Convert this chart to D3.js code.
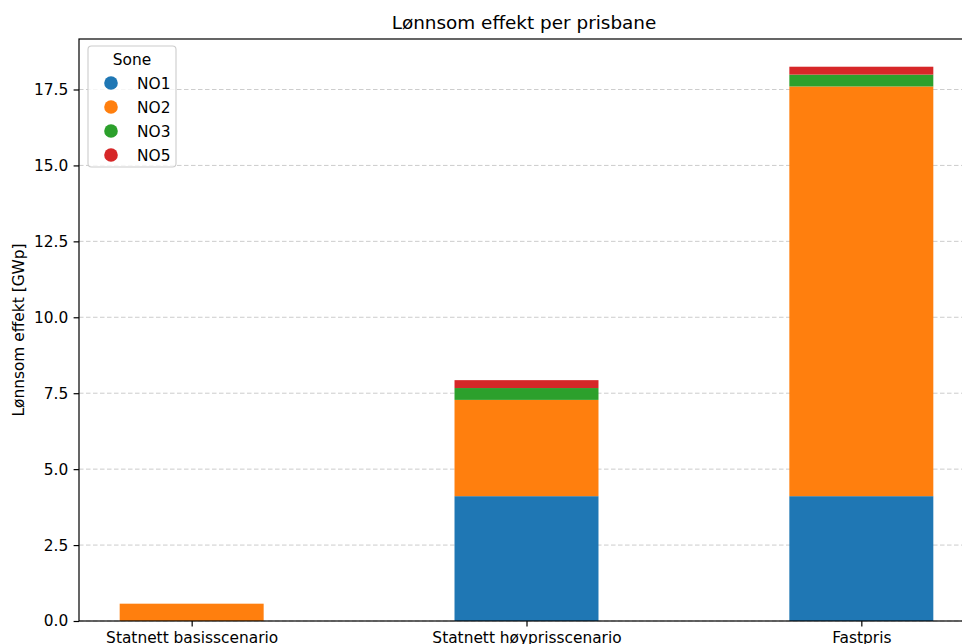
<!DOCTYPE html>
<html><head><meta charset="utf-8">
<script src="https://cdn.jsdelivr.net/npm/d3@7"></script>
<style>body{margin:0;background:#fff;} svg{display:block;font-family:"DejaVu Sans",sans-serif;}</style>
</head><body>
<svg id="c" width="962" height="644"></svg>
<script>
const categories = ["Statnett basisscenario", "Statnett høyprisscenario", "Fastpris"];
const zones = ["NO1", "NO2", "NO3", "NO5"];
const NO1 = [0, 4.11, 4.11];
const NO2 = [0.57, 3.17, 13.49];
const NO3 = [0, 0.39, 0.39];
const NO5 = [0, 0.26, 0.26];
const colors = ["#1f77b4", "#ff7f0e", "#2ca02c", "#d62728"];
const yTicks = [0, 2.5, 5, 7.5, 10, 12.5, 15, 17.5];

const series = {NO1, NO2, NO3, NO5};
const rows = categories.map((c, i) => {
  const r = {cat: c};
  zones.forEach(z => r[z] = series[z][i]);
  return r;
});
const stack = d3.stack().keys(zones)(rows);

const svg = d3.select("#c");
const L = 79, T = 39, B = 621, R = 974;
const FS = 15.4;
const barW = 0.43;
const xlo = -barW/2 - 0.05*(2+barW), xhi = 2 + barW/2 + 0.05*(2+barW);
const x = d3.scaleLinear().domain([xlo, xhi]).range([L, R]);
const totals = rows.map(r => zones.reduce((s, z) => s + r[z], 0));
const ymax = d3.max(totals) * 1.05;
const y = d3.scaleLinear().domain([0, ymax]).range([B, T]);

// grid
svg.append("g").selectAll("line").data(yTicks).join("line")
  .attr("x1", L).attr("x2", R).attr("y1", d => y(d)).attr("y2", d => y(d))
  .attr("stroke", "#b0b0b0").attr("stroke-width", 0.9).attr("stroke-dasharray", "4.5,2.5").attr("opacity", 0.7);

// bars
svg.append("g").selectAll("g").data(stack).join("g")
  .attr("fill", (d, i) => colors[i])
  .selectAll("rect").data(d => d).join("rect")
  .attr("x", (d, i) => x(i - barW/2))
  .attr("width", x(barW) - x(0))
  .attr("y", d => y(d[1]))
  .attr("height", d => y(d[0]) - y(d[1]));

// axes
const yAxis = d3.axisLeft(y).tickValues(yTicks).tickFormat(d3.format(".1f")).tickSize(5.4).tickPadding(5.4);
const gy = svg.append("g").attr("transform", `translate(${L},0)`).call(yAxis);
gy.select(".domain").remove();
gy.selectAll("text").attr("font-size", FS).attr("fill", "#000").attr("font-family", "DejaVu Sans");
gy.selectAll("line").attr("stroke", "#000").attr("stroke-width", 1.2);

const xAxis = d3.axisBottom(x).tickValues([0, 1, 2]).tickFormat(i => categories[i]).tickSize(5.4).tickPadding(5.4);
const gx = svg.append("g").attr("transform", `translate(0,${B})`).call(xAxis);
gx.select(".domain").remove();
gx.selectAll("text").attr("font-size", FS).attr("fill", "#000").attr("font-family", "DejaVu Sans");
gx.selectAll("line").attr("stroke", "#000").attr("stroke-width", 1.2);

// spines
svg.append("rect").attr("x", L).attr("y", T).attr("width", R - L).attr("height", B - T)
  .attr("fill", "none").attr("stroke", "#000").attr("stroke-width", 1.2);

// title
svg.append("text").attr("x", 524).attr("y", 29).attr("text-anchor", "middle")
  .attr("font-size", 18.4).text("Lønnsom effekt per prisbane");

// y label
svg.append("text").attr("transform", `translate(24,${(T + B) / 2}) rotate(-90)`)
  .attr("text-anchor", "middle").attr("font-size", FS).text("Lønnsom effekt [GWp]");

// legend
const lg = svg.append("g");
lg.append("rect").attr("x", 88).attr("y", 46).attr("width", 88).attr("height", 121).attr("rx", 3.5)
  .attr("fill", "#fff").attr("fill-opacity", 0.8).attr("stroke", "#cccccc").attr("stroke-width", 1.1);
lg.append("text").attr("x", 132).attr("y", 65).attr("text-anchor", "middle").attr("font-size", FS).text("Sone");
zones.forEach((z, i) => {
  const cy = 83 + i * 24;
  lg.append("circle").attr("cx", 111).attr("cy", cy).attr("r", 6.8).attr("fill", colors[i]);
  lg.append("text").attr("x", 137).attr("y", cy + 5.5).attr("font-size", FS).text(z);
});
</script>
</body></html>
